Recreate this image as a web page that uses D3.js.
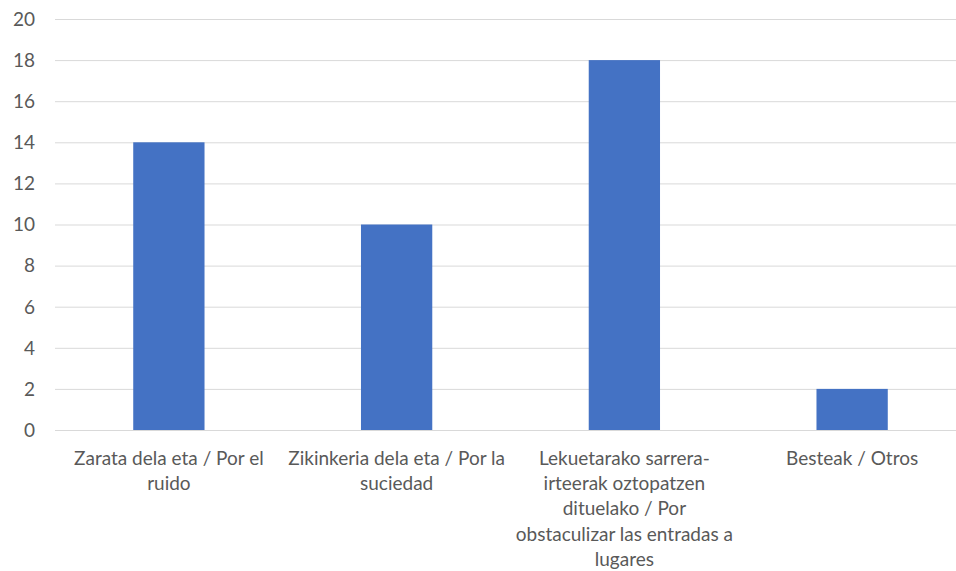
<!DOCTYPE html>
<html><head><meta charset="utf-8">
<script src="https://cdn.jsdelivr.net/npm/d3@7"></script>
<style>body{margin:0;background:#fff;} text{font-family:Lato,"Open Sans",sans-serif;}</style>
</head><body><svg id="c" width="956" height="571"></svg>
<script>
const categories = [
  ["Zarata dela eta / Por el", "ruido"],
  ["Zikinkeria dela eta / Por la", "suciedad"],
  ["Lekuetarako sarrera-", "irteerak oztopatzen", "dituelako / Por", "obstaculizar las entradas a", "lugares"],
  ["Besteak / Otros"]
];
const values = [14, 10, 18, 2];
const yTicks = [0, 2, 4, 6, 8, 10, 12, 14, 16, 18, 20];

const svg = d3.select("#c");
const x = d3.scaleBand().domain(d3.range(categories.length)).range([55, 966]).paddingInner(0.687).paddingOuter(0.3435);
const y = d3.scaleLinear().domain([0, 20]).range([430, 19]);

svg.append("g").selectAll("line").data(yTicks).join("line")
  .attr("x1", 55).attr("x2", 956)
  .attr("y1", d => y(d) + 0.5).attr("y2", d => y(d) + 0.5)
  .attr("stroke", "#d9d9d9").attr("stroke-width", 1);

svg.append("g").selectAll("text").data(yTicks).join("text")
  .attr("x", 35).attr("y", d => y(d)).attr("dy", "0.36em")
  .attr("text-anchor", "end").attr("font-size", 19).attr("fill", "#595959")
  .text(d => d);

svg.append("g").selectAll("rect").data(values).join("rect")
  .attr("x", (d, i) => x(i)).attr("width", x.bandwidth())
  .attr("y", d => y(d)).attr("height", d => y(0) - y(d))
  .attr("fill", "#4472c4");

const lab = svg.append("g").selectAll("text").data(categories).join("text")
  .attr("text-anchor", "middle").attr("font-size", 19).attr("fill", "#595959")
  .attr("transform", (d, i) => `translate(${x(i) + x.bandwidth() / 2},458)`);
lab.selectAll("tspan").data(d => d).join("tspan")
  .attr("x", 0).attr("y", (d, j) => j * 25.3).attr("dy", "0.36em").text(d => d);
</script></body></html>
